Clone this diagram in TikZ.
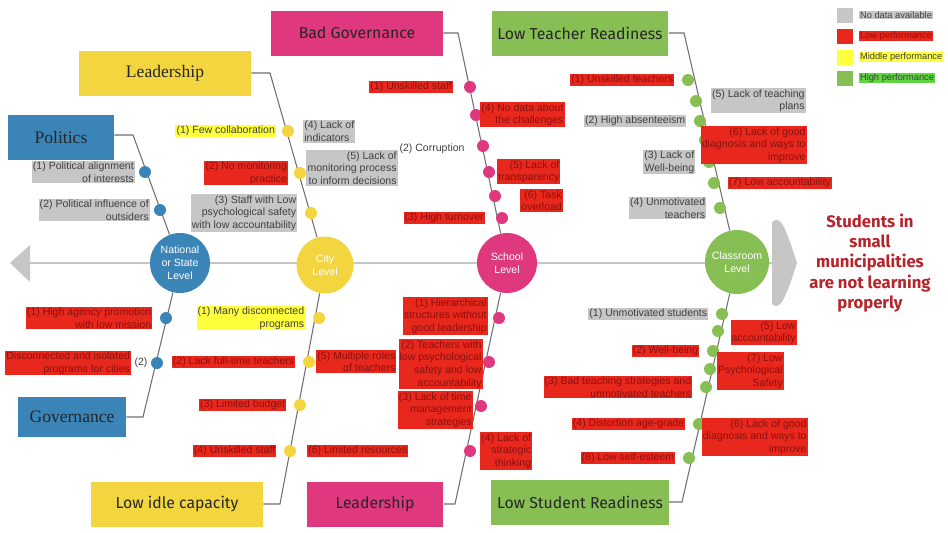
\documentclass[tikz,border=0pt]{standalone}
\usepackage{fontspec}
\setmainfont{Liberation Sans}
\newfontfamily\titlefont{Fira Sans}
\newfontfamily\serifbox{Liberation Serif}
\usetikzlibrary{positioning}

\definecolor{natblue}{HTML}{3B84B8}
\definecolor{cityyel}{HTML}{F3D53F}
\definecolor{schpink}{HTML}{E0387E}
\definecolor{clsgreen}{HTML}{88BF55}
\definecolor{nodata}{HTML}{C6C6C6}
\definecolor{lowred}{HTML}{E8281C}
\definecolor{lowtxt}{HTML}{8A1010}
\definecolor{midyel}{HTML}{FFFF3C}
\definecolor{highgrn}{HTML}{5FD640}
\definecolor{bone}{HTML}{6E6E6E}
\definecolor{goalred}{HTML}{B5252B}

\tikzset{
  bonel/.style={draw=bone, line width=0.6pt},
  lvl/.style={circle, minimum size=#1, inner sep=0pt, text=white, align=center,
    font=\fontsize{6}{7.5}\selectfont},
  dot/.style={circle, fill=#1, minimum size=0.24cm, inner sep=0pt},
  ttl/.style={fill=#1, minimum width=3.44cm, minimum height=0.9cm,
    font=\titlefont\fontsize{9}{10}\selectfont, text=black!85},
  lab/.style={inner sep=0.6pt, font=\fontsize{6}{7.2}\selectfont, text=black!75},
  gry/.style={lab, fill=nodata},
  red/.style={lab, fill=lowred, text=lowtxt},
  yel/.style={lab, fill=midyel},
  key/.style={minimum width=0.32cm, minimum height=0.3cm, inner sep=0pt},
  leg/.style={font=\fontsize{5.3}{6}\selectfont}
}

\begin{document}
\begin{tikzpicture}[x=0.02cm, y=-0.02cm]
    \useasboundingbox (0,0) rectangle (948,532);

    % spine and arrows
    \fill[nodata] (10,263) -- (30,245) -- (30,282) -- cycle;
    \fill[nodata] (772,222) .. controls (780,215) and (785,225) .. (797,263)
                   .. controls (785,300) and (780,311) .. (772,304) -- cycle;
    \coordinate (sl) at (30,263);
    \coordinate (sr) at (772,263);
    \draw[draw=nodata, line width=1.6pt] (sl) -- (sr);

    % level circles
    \node[lvl=1.2cm, fill=natblue] (nat) at (180,263) {National\\or State\\Level};
    \node[lvl=1.14cm, fill=cityyel] (city) at (325,265) {City\\Level};
    \node[lvl=1.2cm, fill=schpink] (school) at (507,263) {School\\Level};
    \node[lvl=1.28cm, fill=clsgreen] (class) at (737,262) {Classroom\\Level};

    % effect
    \node[text=goalred, align=center, font=\titlefont\bfseries\fontsize{9.5}{11.5}\selectfont]
        (goal) at (870,263) {Students in\\small\\municipalities\\are not learning\\properly};

    % category boxes
    \node[ttl=natblue, minimum width=2.12cm, font=\serifbox\fontsize{10}{11}\selectfont] (politics) at (61,137) {Politics};
    \node[ttl=cityyel, font=\serifbox\fontsize{10}{11}\selectfont] (leadup) at (165,73) {Leadership};
    \node[ttl=schpink] (badgov) at (357,33) {Bad Governance};
    \node[ttl=clsgreen] (teach) at (580,33) {Low Teacher Readiness};
    \node[ttl=natblue, minimum width=2.16cm, minimum height=0.8cm, font=\serifbox\fontsize{10}{11}\selectfont] (gov) at (72,417) {Governance};
    \node[ttl=cityyel] (idle) at (177,504) {Low idle capacity};
    \node[ttl=schpink, minimum width=2.74cm] (leadlo) at (375,504) {Leadership};
    \node[ttl=clsgreen] (stud) at (580,502) {Low Student Readiness};

    % bones
    \draw[bonel] (politics.east |- 0,135) -- (133,135) -- (nat);
    \draw[bonel] (leadup.east) -- (270,73) -- (city);
    \draw[bonel] (badgov.east) -- (458,33) -- (school);
    \draw[bonel] (teach.east) -- (684,33) -- (class);
    \draw[bonel] (gov.east) -- (143,417) -- (nat);
    \draw[bonel] (idle.east) -- (280,504) -- (city);
    \draw[bonel] (leadlo.east) -- (455,504) -- (school);
    \draw[bonel] (stud.east |- 0,502) -- (682,502) -- (class);

    % causes on the bones
    \foreach \p [count=\i] in {(145,172),(160,210),(166,318),(157,363)}
        \node[dot=natblue] (nd\i) at \p {};
    \foreach \p [count=\i] in {(288,131),(300,173),(311,213),(319,318),(309,362),(300,405),(290,451)}
        \node[dot=cityyel] (cd\i) at \p {};
    \foreach \p [count=\i] in {(470,87),(476,115),(483,146),(489,172),(495,196),(502,218),
                               (499,318),(489,362),(481,406),(470,451)}
        \node[dot=schpink] (sd\i) at \p {};
    \foreach \p [count=\i] in {(688,80),(696,101),(700,121),(705,140),(709,162),(714,183),(720,208),
                               (722,314),(718,331),(713,351),(710,369),(706,387),(699,424),(689,458)}
        \node[dot=clsgreen] (kd\i) at \p {};

    % national labels
    \node[gry, align=right, left=2pt of nd1] (n1) {(1) Political alignment\\of interests};
    \node[gry, align=right, left=2pt of nd2] (n2) {(2) Political influence of\\outsiders};
    \node[red, align=right, left=4pt of nd3] (n3) {(1) High agency promotion\\with low mission};
    \node[lab, left=1pt of nd4] (n4x) {(2)};
    \node[red, align=right, left=1pt of n4x] (n4) {Disconnected and isolated\\programs for cities};

    % city labels
    \node[yel, left=3pt of cd1] (c1) {(1) Few collaboration};
    \node[gry, align=left, anchor=south west] (c4) at (303,143) {(4) Lack of\\indicators};
    \node[red, align=right, left=3pt of cd2] (c2) {(2) No monitoring\\practice};
    \node[gry, align=right, anchor=north east] (c5) at (398,150) {(5) Lack of\\monitoring process\\to inform decisions};
    \node[gry, align=right, left=4pt of cd3] (c3) {(3) Staff with Low\\psychological safety\\with low accountability};
    \node[yel, align=right, left=4pt of cd4] (c6) {(1) Many disconnected\\programs};
    \node[red, left=4pt of cd5] (c7) {(2) Lack full-time teachers};
    \node[red, align=right, anchor=north west] (c8) at (316,350) {(5) Multiple roles\\of teachers};
    \node[red, left=4pt of cd6] (c9) {(3) Limited budget};
    \node[red, left=4pt of cd7] (c10) {(4) Unskilled staff};
    \node[red, right=6pt of cd7] (c11) {(6) Limited resources};

    % school labels
    \node[red, left=6pt of sd1] (s1) {(1) Unskilled staff};
    \node[red, align=right, anchor=north west] (s4) at (480,102) {(4) No data about\\the challenges};
    \node[lab, anchor=east] (s2) at (466,149) {(2) Corruption};
    \node[red, align=right, anchor=north west] (s5) at (497,159) {(5) Lack of\\transparency};
    \node[red, align=right, anchor=north west] (s6) at (520,189) {(6) Task\\overload};
    \node[red, left=6pt of sd6] (s3) {(3) High turnover};
    \node[red, align=right, anchor=north east] (s7) at (488,297) {(1) Hierarchical\\structures without\\good leadership};
    \node[red, align=right, anchor=north east] (s8) at (483,339) {(2) Teachers with\\low psychological\\safety and low\\accountability};
    \node[red, align=right, anchor=north east] (s9) at (473,391) {(3) Lack of time\\management\\strategies};
    \node[red, align=right, anchor=north west] (s10) at (480,432) {(4) Lack of\\strategic\\thinking};

    % classroom labels
    \node[red, left=4pt of kd1] (k1) {(1) Unskilled teachers};
    \node[gry, align=right, anchor=north east] (k5) at (806,88) {(5) Lack of teaching\\plans};
    \node[gry, left=4pt of kd3] (k2) {(2) High absenteeism};
    \node[red, align=right, anchor=north east] (k6) at (807,126) {(6) Lack of good\\diagnosis and ways to\\improve};
    \node[gry, align=right, left=4pt of kd5] (k3) {(3) Lack of\\Well-being};
    \node[red, right=4pt of kd6] (k7) {(7) Low accountability};
    \node[gry, align=right, left=4pt of kd7] (k4) {(4) Unmotivated\\teachers};
    \node[gry, left=4pt of kd8] (u1) {(1) Unmotivated students};
    \node[red, align=right, anchor=north east] (u5) at (797,320) {(5) Low\\accountability};
    \node[red, left=4pt of kd10] (u2) {(2) Well-being};
    \node[red, align=right, anchor=north east] (u7) at (784,352) {(7) Low\\Psychological\\Safety};
    \node[red, align=right, left=4pt of kd12] (u3) {(3) Bad teaching strategies and\\unmotivated teachers};
    \node[red, left=4pt of kd13] (u4) {(4) Distortion age-grade};
    \node[red, align=right, anchor=north east] (u6) at (808,418) {(6) Lack of good\\diagnosis and ways to\\improve};
    \node[red, left=4pt of kd14] (u8) {(8) Low self-esteem};

    % legend
    \node[key, fill=nodata] (k0) at (845,15) {};
    \node[key, fill=lowred] (kr) at (845,36) {};
    \node[key, fill=midyel] (ky) at (845,57) {};
    \node[key, fill=clsgreen] (kg) at (845,78) {};
    \node[gry, leg, right=3pt of k0] (l0) {No data available};
    \node[red, leg, right=3pt of kr] (lr) {Low performance};
    \node[yel, leg, right=3pt of ky] (ly) {Middle performance};
    \node[lab, leg, fill=highgrn, right=3pt of kg] (lg) {High performance};
\end{tikzpicture}
\end{document}
